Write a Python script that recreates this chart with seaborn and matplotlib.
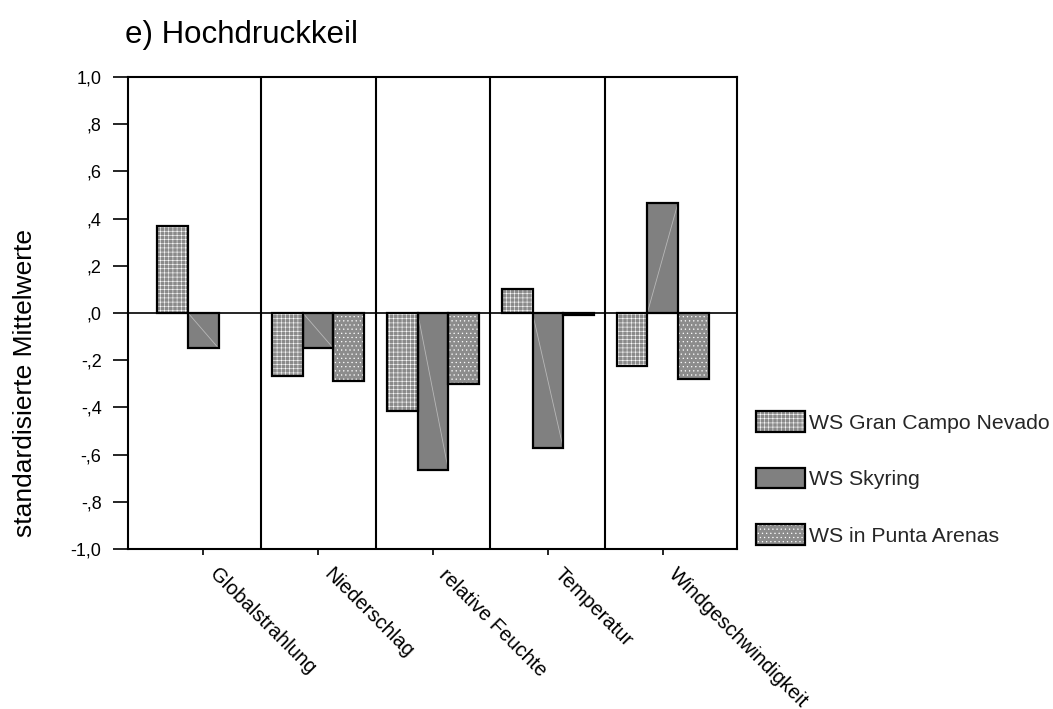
import numpy as np
import pandas as pd
import matplotlib
matplotlib.use("Agg")
import matplotlib.pyplot as plt
import matplotlib.transforms as mtransforms
import seaborn as sns
from matplotlib.patches import Patch, Rectangle
from matplotlib.legend_handler import HandlerTuple

categories = ["Globalstrahlung", "Niederschlag", "relative Feuchte", "Temperatur", "Windgeschwindigkeit"]
stations = ["WS Gran Campo Nevado", "WS Skyring", "WS in Punta Arenas"]
gran_campo = [0.37, -0.265, -0.415, 0.10, -0.225]
skyring = [-0.15, -0.15, -0.665, -0.57, 0.465]
punta_arenas = [np.nan, -0.29, -0.30, -0.01, -0.28]
yticks = [1.0, 0.8, 0.6, 0.4, 0.2, 0.0, -0.2, -0.4, -0.6, -0.8, -1.0]
ytick_labels = ["1,0", ",8", ",6", ",4", ",2", ",0", "-,2", "-,4", "-,6", "-,8", "-1,0"]

df = pd.DataFrame({
    "Variable": categories * 3,
    "Station": [s for s in stations for _ in categories],
    "Wert": gran_campo + skyring + punta_arenas,
})

sns.set_theme(style="white")
plt.rcParams["font.family"] = ["Liberation Sans", "DejaVu Sans"]
plt.rcParams["hatch.linewidth"] = 0.4

facecols = ["#8a8a8a", "#808080", "#8c8c8c"]
hatches = ["++++", "", "...."]

fig = plt.figure(figsize=(10.53, 7.09), dpi=100)
ax = fig.add_axes([128 / 1053, 1 - 549 / 709, (737 - 128) / 1053, (549 - 77) / 709])

sns.barplot(data=df, x="Variable", y="Wert", hue="Station", order=categories,
            hue_order=stations, width=0.8, ax=ax, legend=False,
            palette=facecols, errorbar=None, saturation=1)

for i, cont in enumerate(ax.containers):
    for p in cont.patches:
        h = p.get_height()
        if not np.isfinite(h):
            p.set_visible(False)
            continue
        p.set_hatch(hatches[i])
        p.set_edgecolor("white")
        p.set_linewidth(0)
        x0, y0 = p.get_xy()
        ax.add_patch(Rectangle((x0, y0), p.get_width(), h, fill=False,
                               edgecolor="black", linewidth=1.6, zorder=3))
        if i == 1:
            ax.plot([x0, x0 + p.get_width()], [0, h], color="#b8b8b8",
                    lw=0.6, zorder=2.5)

ax.axhline(0, color="black", lw=1.2, zorder=4)
for b in [0.5, 1.5, 2.5, 3.5]:
    ax.axvline(b, color="black", lw=1.5, zorder=1)

ax.set_xlim(-0.5 - 18 / 115, 4.5 + 17 / 115)
ax.set_ylim(-1.0, 1.0)
ax.set_yticks(yticks)
ax.set_yticklabels(ytick_labels, fontsize=13)
ax.set_xticks(range(len(categories)))
ax.set_xticklabels([])
label_tf = ax.get_xaxis_transform() + mtransforms.ScaledTranslation(
    16 / 100, -16 / 100, fig.dpi_scale_trans)
for i, cat in enumerate(categories):
    ax.text(i, 0, cat, transform=label_tf, fontsize=14.5, rotation=-45,
            ha="left", va="top", rotation_mode="anchor", color="black")
ax.tick_params(axis="y", direction="out", length=11, width=1.2, pad=8, colors="black",
               left=True)
ax.tick_params(axis="x", direction="out", length=4.5, width=1.2, colors="black",
               bottom=True)
ax.set_xlabel("")
ax.set_ylabel("")
for s in ax.spines.values():
    s.set_visible(True)
    s.set_color("black")
    s.set_linewidth(1.5)

fig.text(125 / 1053, 1 - 43 / 709, "e) Hochdruckkeil", fontsize=22.5, va="baseline",
         ha="left", color="black")
fig.text(25 / 1053, 1 - 383 / 709, "standardisierte Mittelwerte", fontsize=19,
         rotation=90, ha="center", va="center", color="black")

handles = []
for fc, ht in zip(facecols, hatches):
    handles.append((Patch(facecolor=fc, hatch=ht, edgecolor="white", linewidth=0),
                    Patch(fill=False, edgecolor="black", linewidth=1.6)))
fig.legend(handles, stations, handler_map={tuple: HandlerTuple(ndivide=1, pad=0)},
           loc="upper left", bbox_to_anchor=(756 / 1053, 1 - 411 / 709),
           frameon=False, borderpad=0, borderaxespad=0, fontsize=15.3,
           handlelength=2.3, handleheight=1.13, labelspacing=1.65, handletextpad=0.2)

fig.savefig("out.png", dpi=100)
